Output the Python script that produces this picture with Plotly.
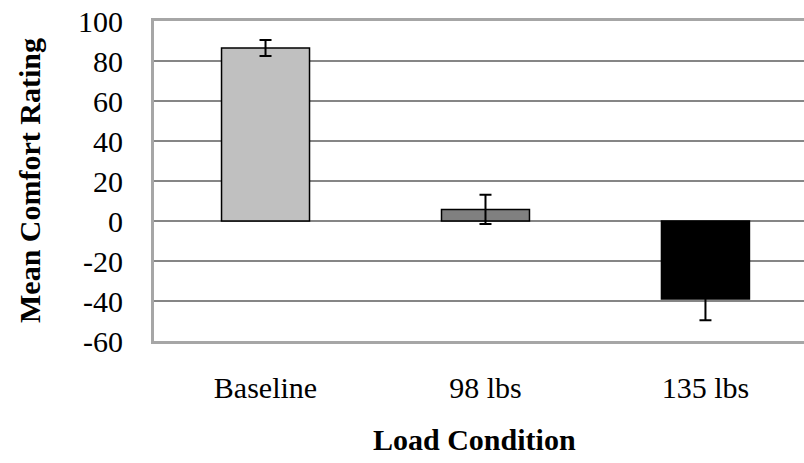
import plotly.graph_objects as go

categories = ["Baseline", "98 lbs", "135 lbs"]
means = [86.5, 5.8, -39.0]
errors = [4.0, 7.3, 10.6]
colors = ["#c0c0c0", "#808080", "#000000"]
y_ticks = [-60, -40, -20, 0, 20, 40, 60, 80, 100]
y_ticktext = ["-60", "-40", "-20", "0", "20", "40", "60", "80", "100"]

W, H = 804, 463
ML, MR, MT, MB = 154, 0, 21, 121.5
FONT = "Liberation Serif, Times New Roman, serif"

fig = go.Figure()
fig.add_trace(go.Bar(
    x=categories, y=means,
    width=0.4,
    marker=dict(color=colors, line=dict(color="#000000", width=1.5)),
    error_y=dict(type="data", array=errors, visible=True,
                 color="#000000", thickness=2, width=6),
    showlegend=False,
))

fig.update_layout(
    width=W, height=H,
    margin=dict(l=ML, r=MR, t=MT, b=MB, pad=0),
    paper_bgcolor="white", plot_bgcolor="white",
    font=dict(family=FONT, size=30, color="#000000"),
    xaxis=dict(
        type="category", range=[-0.507, 2.448],
        showgrid=False, zeroline=False,
        showline=True, linecolor="#a6a6a6", linewidth=3, mirror=True,
        ticks="", ticklabelstandoff=18,
        tickfont=dict(family=FONT, size=30, color="#000000"),
    ),
    yaxis=dict(
        range=[-60, 100], tickvals=y_ticks, ticktext=y_ticktext,
        showgrid=True, gridcolor="#868686", gridwidth=1.5,
        zeroline=False,
        showline=True, linecolor="#a6a6a6", linewidth=3, mirror=False,
        ticks="", ticklabelstandoff=22,
        tickfont=dict(family=FONT, size=30, color="#000000"),
    ),
    annotations=[
        dict(text="<b>Load Condition</b>", xref="paper", yref="paper",
             x=(474.5 - ML) / (W - ML - MR), y=0, yshift=-(440 - (H - MB)),
             xanchor="center", yanchor="middle", showarrow=False,
             font=dict(family=FONT, size=30, color="#000000")),
        dict(text="<b>Mean Comfort Rating</b>", xref="paper", yref="paper",
             x=0, xshift=-(ML - 29), y=0.5, textangle=-90,
             xanchor="center", yanchor="middle", showarrow=False,
             font=dict(family=FONT, size=30, color="#000000")),
    ],
)

fig.write_html("out.html")
